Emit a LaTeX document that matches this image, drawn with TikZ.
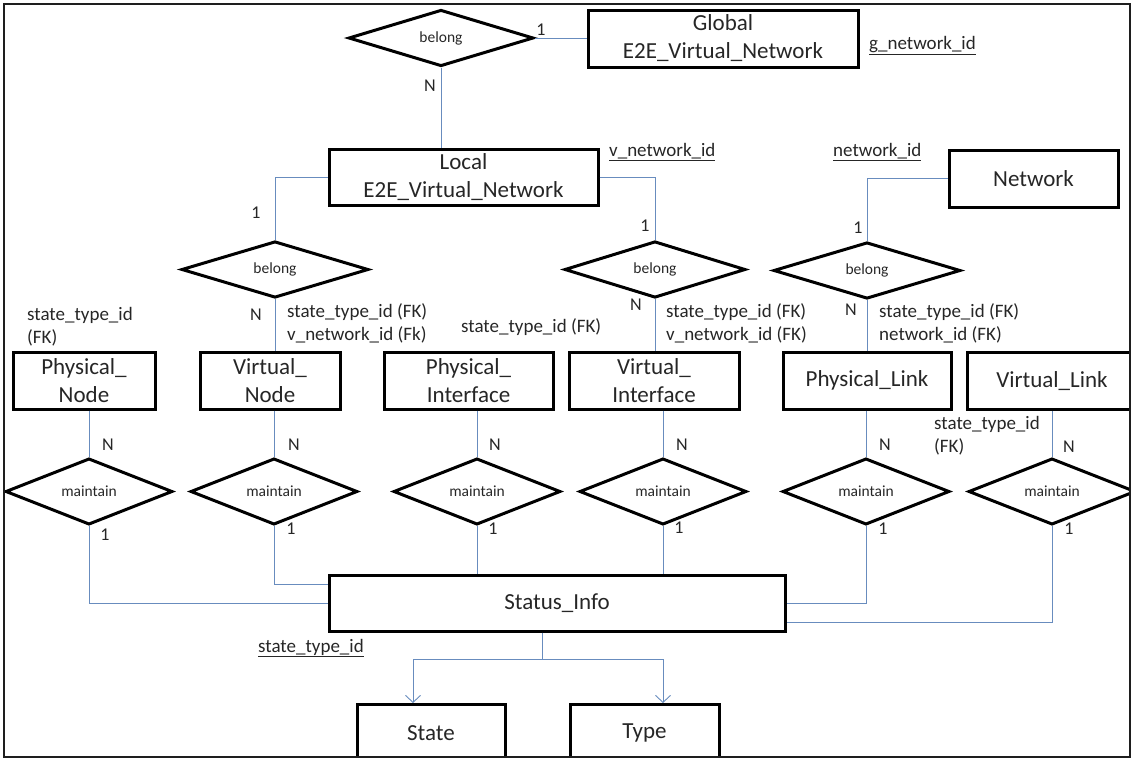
\documentclass[tikz,border=0pt]{standalone}
\usepackage{fontspec}
\setmainfont{Carlito}
\usetikzlibrary{shapes.geometric,arrows.meta}
\definecolor{linkblue}{RGB}{104,140,190}
\definecolor{inkgray}{RGB}{38,38,38}
\definecolor{framegray}{RGB}{30,30,30}
\begin{document}
\begin{tikzpicture}[x=1pt,y=-1pt,
  entity/.style={draw=black,line width=3pt,rectangle,minimum height=57pt,inner sep=0pt,
    align=center,text=inkgray,font=\fontsize{23}{28}\selectfont},
  rel/.style={draw=black,line width=3pt,diamond,inner sep=0pt,minimum width=#1,
    minimum height=57pt,text=inkgray,font=\fontsize{15.5}{18}\selectfont},
  rel/.default=167pt,
  link/.style={draw=linkblue,line width=0.9pt},
  card/.style={text=inkgray,font=\fontsize{18}{22}\selectfont,inner sep=0pt},
  attr/.style={text=inkgray,font=\fontsize{19}{23}\selectfont,align=left,anchor=west,inner sep=0pt},
  tip/.style={-{Straight Barb[length=7pt,width=15pt,line width=0.9pt]}}
]
\useasboundingbox (0,0) rectangle (1131,761);
\begin{scope}
\clip (4,4) rectangle (1130,757);

% entities
\node[entity,minimum width=270pt] (glob) at (723,38.5) {Global\\E2E\_Virtual\_Network};
\node[entity,minimum width=269pt,minimum height=56pt] (local) at (463.5,177) {Local\\E2E\_Virtual\_Network};
\node[entity,minimum width=169pt] (net) at (1033.5,178.5) {Network};
\node[entity,minimum width=142pt] (pnode) at (84,380.5) {Physical\_\\Node};
\node[entity,minimum width=140pt] (vnode) at (270,380.5) {Virtual\_\\Node};
\node[entity,minimum width=169pt] (pif) at (468.5,380.5) {Physical\_\\Interface};
\node[entity,minimum width=170pt] (vif) at (654,380.5) {Virtual\_\\Interface};
\node[entity,minimum width=168pt] (plink) at (867,380.5) {Physical\_Link};
\node[entity,minimum width=170pt] (vlink) at (1052,381) {Virtual\_Link};
\node[entity,minimum width=456pt,minimum height=56pt] (status) at (557,603) {Status\_Info};
\node[entity,minimum width=148pt] (state) at (431,733) {State};
\node[entity,minimum width=149pt] (type) at (644.5,733) {Type};

% relationships
\node[rel=185pt,minimum height=56pt] (b0) at (441,38) {belong};
\node[rel=187pt,minimum height=55pt] (b1) at (275,269.5) {belong};
\node[rel=181pt,minimum height=55pt] (b2) at (655,269.5) {belong};
\node[rel=187pt,minimum height=55pt] (b3) at (867,270.5) {belong};
\node[rel] (m1) at (89,491.5) {maintain};
\node[rel] (m2) at (274,491.5) {maintain};
\node[rel] (m3) at (477,491.5) {maintain};
\node[rel] (m4) at (663,491.5) {maintain};
\node[rel] (m5) at (866,491.5) {maintain};
\node[rel] (m6) at (1052,491.5) {maintain};

% connectors
\draw[link] (b0.east) -- (b0.east -| glob.west);
\draw[link] (b0.south) -- (b0.south |- local.north);
\draw[link] (local.west) -| (b1.north);
\draw[link] (local.east) -| (b2.north);
\draw[link] (net.west) -| (b3.north);
\draw[link] (b1.south) -- (b1.south |- vnode.north);
\draw[link] (b2.south) -- (b2.south |- vif.north);
\draw[link] (b3.south) -- (b3.south |- plink.north);
\draw[link] (m1.north |- pnode.south) -- (m1.north);
\draw[link] (m2.north |- vnode.south) -- (m2.north);
\draw[link] (m3.north |- pif.south) -- (m3.north);
\draw[link] (m4.north |- vif.south) -- (m4.north);
\draw[link] (m5.north |- plink.south) -- (m5.north);
\draw[link] (m6.north |- vlink.south) -- (m6.north);
\draw[link] (m1.south) |- (status.west);
\draw[link] (m2.south) |- ([yshift=19pt]status.west);
\draw[link] (m3.south) -- (m3.south |- status.north);
\draw[link] (m4.south) -- (m4.south |- status.north);
\draw[link] (m5.south) |- (status.east);
\draw[link] (m6.south) |- ([yshift=-19pt]status.east);
\coordinate (split) at (542,659);
\draw[link] (split |- status.south) -- (split);
\draw[link,tip] (split) -| ([xshift=-18pt]state.north);
\draw[link,tip] (split) -| ([xshift=18.5pt]type.north);

% cardinalities
\node[card] (c0) at (541,30) {1};
\node[card] (c1) at (430,86) {N};
\node[card] (c2) at (256,213) {1};
\node[card] (c3) at (645,226) {1};
\node[card] (c4) at (858,228) {1};
\node[card] (c5) at (256,315) {N};
\node[card] (c6) at (636,305) {N};
\node[card] (c7) at (851,310) {N};
\node[card] (n1) at (108,445) {N};
\node[card] (n2) at (294,445) {N};
\node[card] (n3) at (495,445) {N};
\node[card] (n4) at (682,445) {N};
\node[card] (n5) at (885,445) {N};
\node[card] (n6) at (1069,447) {N};
\node[card] (o1) at (105,535) {1};
\node[card] (o2) at (291,529) {1};
\node[card] (o3) at (493,529) {1};
\node[card] (o4) at (679,528) {1};
\node[card] (o5) at (883,529) {1};
\node[card] (o6) at (1069,529) {1};

% keys and foreign keys
\node[attr] (k0) at (869,46) {\underline{g\_network\_id}};
\node[attr] (k1) at (609,152) {\underline{v\_network\_id}};
\node[attr] (k2) at (833,152) {\underline{network\_id}};
\node[attr] (k3) at (258,648) {\underline{state\_type\_id}};
\node[attr] (f1) at (287,323.5) {state\_type\_id (FK)\\v\_network\_id (Fk)};
\node[attr] (f2) at (666,323.5) {state\_type\_id (FK)\\v\_network\_id (FK)};
\node[attr] (f3) at (879,323.5) {state\_type\_id (FK)\\network\_id (FK)};
\node[attr] (f4) at (461,327) {state\_type\_id (FK)};
\node[attr] (f5) at (27,326.5) {state\_type\_id\\(FK)};
\node[attr] (f6) at (934,436) {state\_type\_id\\(FK)};
\end{scope}

% outer frame
\draw[framegray,line width=1.5pt] (4,4) rectangle (1130,757);
\end{tikzpicture}
\end{document}
